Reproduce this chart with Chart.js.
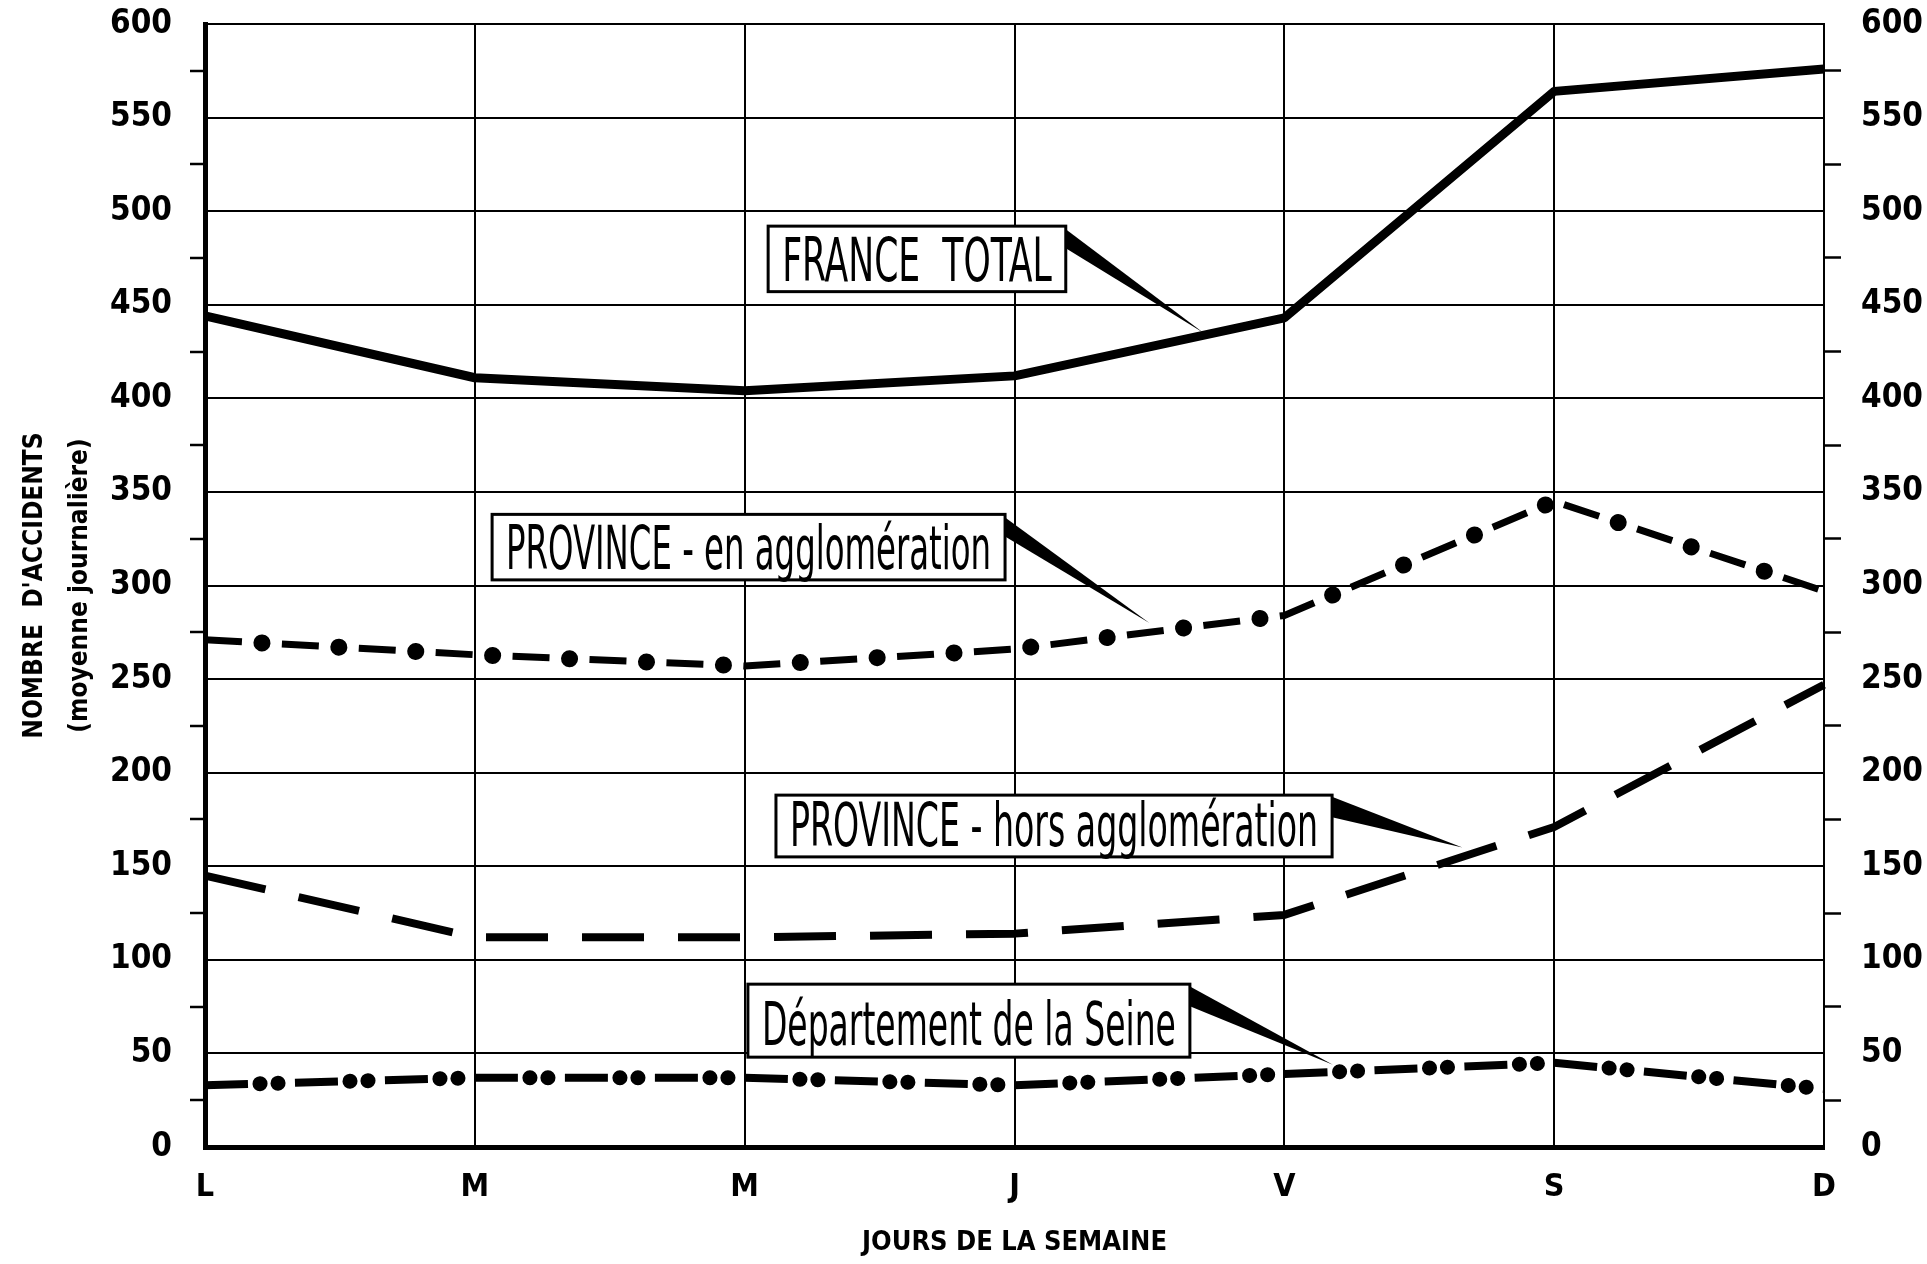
<!DOCTYPE html>
<html>
<head>
<meta charset="utf-8">
<title>Nombre d'accidents par jour de la semaine</title>
<script src="https://cdn.jsdelivr.net/npm/chart.js@4.4.1/dist/chart.umd.min.js"></script>
<style>
  html, body { margin: 0; padding: 0; background: #fff; overflow: hidden; }
  canvas { display: block; }
</style>
</head>
<body>
<canvas id="accidents-chart" width="1927" height="1264"></canvas>
<script>
// jours de la semaine
var days = ['L', 'M', 'M', 'J', 'V', 'S', 'D'];

// nombre d'accidents (moyenne journaliere)
var franceTotal       = [444, 411, 404, 412, 443, 564, 576];
var provinceEnAgglo   = [271, 263, 257, 266, 284, 345, 297];
var provinceHorsAgglo = [145, 112, 112, 114, 124, 171, 247];
var seine             = [33, 37, 37, 33, 39, 45, 31];

var yMin = 0;
var yMax = 600;
var yStep = 25;        // petits traits
var yLabelStep = 50;   // graduations + lignes

var FONT = "'Liberation Sans Narrow', 'DejaVu Sans Condensed', 'Noto Sans', sans-serif";

// etiquettes encadrees : box = [x gauche, x droite, y haut, y bas] en unites des axes
var callouts = [
    {text: 'FRANCE  TOTAL',                 box: [2.087, 3.19, 492, 457], tip: [3.70, 435]},
    {text: 'PROVINCE - en agglomération',   box: [1.064, 2.965, 338, 303], tip: [3.50, 280]},
    {text: 'PROVINCE - hors agglomération', box: [2.116, 4.177, 188, 155], tip: [4.66, 160]},
    {text: 'Département de la Seine',       box: [2.012, 3.65, 87, 48],   tip: [4.18, 44]}
];

var calloutPlugin = {
    id: 'callouts',
    afterDatasetsDraw: function(chart) {
        var ctx = chart.ctx;
        var xs = chart.scales.x;
        var ys = chart.scales.y;
        callouts.forEach(function(c) {
            var l = xs.getPixelForValue(c.box[0]);
            var r = xs.getPixelForValue(c.box[1]);
            var t = ys.getPixelForValue(c.box[2]);
            var b = ys.getPixelForValue(c.box[3]);
            var tx = xs.getPixelForValue(c.tip[0]);
            var ty = ys.getPixelForValue(c.tip[1]);
            ctx.save();
            // pointe
            ctx.beginPath();
            ctx.moveTo(r - 4, t);
            ctx.lineTo(tx, ty);
            ctx.lineTo(r, t + 22);
            ctx.closePath();
            ctx.fillStyle = '#000';
            ctx.fill();
            // cadre
            ctx.fillStyle = '#fff';
            ctx.fillRect(l, t, r - l, b - t);
            ctx.lineWidth = 3;
            ctx.strokeStyle = '#000';
            ctx.strokeRect(l, t, r - l, b - t);
            // texte
            ctx.fillStyle = '#000';
            ctx.font = '60px ' + FONT;
            ctx.textBaseline = 'alphabetic';
            ctx.textAlign = 'left';
            ctx.fillText(c.text, l + 14, b - (b - t) * 0.17, r - l - 28);
            ctx.restore();
        });
    }
};

function isMajor(ctx) {
    return ctx.tick && ctx.tick.value % yLabelStep === 0;
}

function yTicks(padding) {
    return {
        stepSize: yStep,
        autoSkip: false,
        color: '#000',
        padding: padding,
        font: {family: FONT, size: 33, weight: 'bold', lineHeight: 1},
        callback: function(v) { return v % yLabelStep === 0 ? v : ''; }
    };
}

// largeur fixe des axes, sans la marge que Chart.js ajoute pour les etiquettes
function fixY(width) {
    return function(scale) {
        scale.width = width;
        scale.paddingTop = 0;
        scale.paddingBottom = 0;
    };
}

var ctx = document.getElementById('accidents-chart').getContext('2d');
var chart = new Chart(ctx, {
    type: 'line',
    data: {
        labels: days,
        datasets: [
            {label: 'FRANCE TOTAL', data: franceTotal, borderColor: '#000', borderWidth: 9},
            {label: 'PROVINCE - en agglomération', data: provinceEnAgglo, borderColor: '#000',
             borderWidth: 7, borderDash: [37, 40]},
            {label: 'PROVINCE - en agglomération (points)', data: provinceEnAgglo, borderColor: '#000',
             borderWidth: 17, borderCapStyle: 'round', borderDash: [0.1, 76.9], borderDashOffset: 20},
            {label: 'PROVINCE - hors agglomération', data: provinceHorsAgglo, borderColor: '#000',
             borderWidth: 8, borderDash: [62, 34]},
            {label: 'Département de la Seine', data: seine, borderColor: '#000',
             borderWidth: 8, borderDash: [43, 47]},
            {label: 'Département de la Seine (points)', data: seine, borderColor: '#000',
             borderWidth: 15, borderCapStyle: 'round', borderDash: [0.1, 17.9, 0.1, 71.9], borderDashOffset: 35}
        ]
    },
    options: {
        responsive: false,
        animation: false,
        layout: {padding: {top: 24, left: 0, right: 0, bottom: 0}},
        elements: {
            point: {radius: 0, hoverRadius: 0},
            line: {tension: 0, fill: false, borderJoinStyle: 'round'}
        },
        plugins: {
            legend: {display: false},
            tooltip: {enabled: false}
        },
        scales: {
            x: {
                offset: false,
                grid: {color: '#000', lineWidth: 2, drawTicks: false},
                border: {color: '#000', width: 5},
                ticks: {color: '#000', padding: 21, autoSkip: false, maxRotation: 0,
                        font: {family: FONT, size: 32, weight: 'bold'}},
                title: {display: true, text: 'JOURS DE LA SEMAINE', color: '#000',
                        font: {family: FONT, size: 27, weight: 'bold'}, padding: {top: 0, bottom: 5}},
                afterFit: function(scale) {
                    scale.height = 117;
                    scale.paddingLeft = 0;
                    scale.paddingRight = 0;
                }
            },
            y: {
                position: 'left',
                min: yMin, max: yMax,
                grid: {
                    lineWidth: 2, tickWidth: 2.5, tickLength: 15,
                    color: function(c) { return isMajor(c) ? '#000' : 'rgba(0,0,0,0)'; },
                    tickColor: function(c) { return isMajor(c) ? 'rgba(0,0,0,0)' : '#000'; }
                },
                border: {color: '#000', width: 5},
                ticks: yTicks(18),
                title: {display: true, color: '#000',
                        text: ["NOMBRE  D'ACCIDENTS", '(moyenne journalière)'],
                        font: {family: FONT, size: 26, weight: 'bold', lineHeight: 1.75},
                        padding: {top: 12, bottom: 0}},
                afterFit: fixY(205)
            },
            y2: {
                position: 'right',
                min: yMin, max: yMax,
                grid: {
                    drawOnChartArea: false, tickWidth: 2.5, tickLength: 17,
                    tickColor: function(c) { return isMajor(c) ? 'rgba(0,0,0,0)' : '#000'; }
                },
                border: {color: '#000', width: 2},
                ticks: yTicks(20),
                afterFit: fixY(103)
            }
        }
    },
    plugins: [calloutPlugin]
});
</script>
</body>
</html>
